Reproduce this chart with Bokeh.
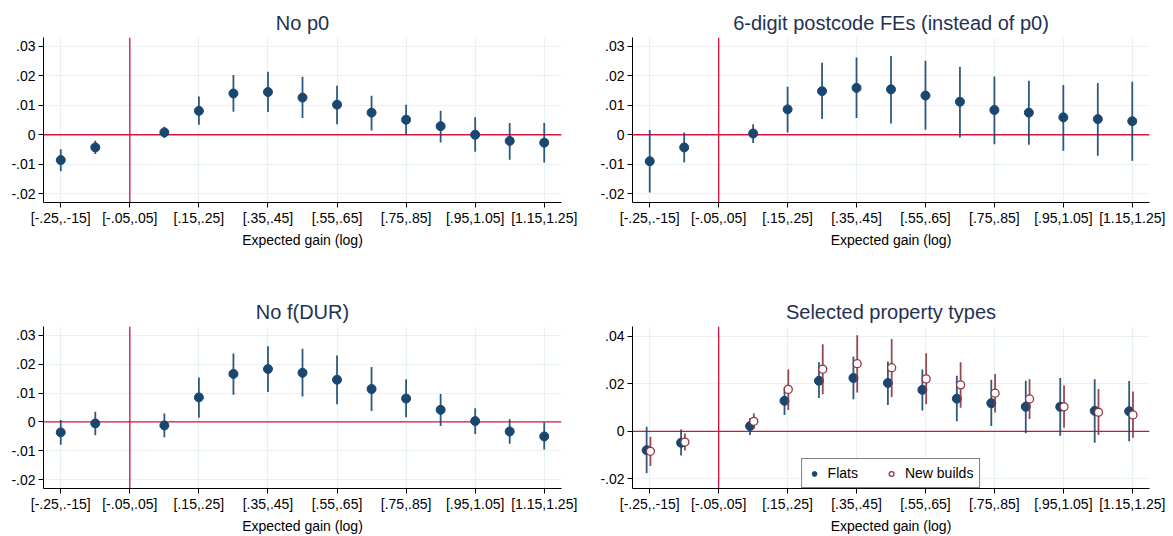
import math
from bokeh.plotting import figure
from bokeh.layouts import column, row
from bokeh.models import (Range1d, FixedTicker, CustomJSTickFormatter, Span,
                          Legend, LegendItem, ColumnDataSource)
from bokeh.embed import file_html
from bokeh.resources import INLINE

NAN = float("nan")

# ---------------- data ----------------
bins = ["[-.25,.-15]", "[-.15,-.05]", "[-.05,.05]", "[.05,.15]", "[.15,.25]",
        "[.25,.35]", "[.35,.45]", "[.45,.55]", "[.55,.65]", "[.65,.75]",
        "[.75,.85]", "[.85,.95]", "[.95,1.05]", "[1.05,1.15]", "[1.15,1.25]"]
shown_bins = [0, 2, 4, 6, 8, 10, 12, 14]
ref_bin = 2  # omitted category

# Panel 1: No p0
nop0_b  = [-0.0086, -0.0043, NAN, 0.0008, 0.0081, 0.0140, 0.0145, 0.0126, 0.0102, 0.0075, 0.0051, 0.0029, 0.0000, -0.0021, -0.0027]
nop0_hi = [-0.0049, -0.0020, NAN, 0.0027, 0.0130, 0.0203, 0.0214, 0.0197, 0.0166, 0.0132, 0.0102, 0.0081, 0.0059, 0.0040, 0.0040]
nop0_lo = [-0.0124, -0.0065, NAN, -0.0011, 0.0034, 0.0078, 0.0077, 0.0057, 0.0036, 0.0014, 0.0000, -0.0026, -0.0058, -0.0085, -0.0094]

# Panel 2: 6-digit postcode FEs
pc_b  = [-0.0090, -0.0043, NAN, 0.0004, 0.0086, 0.0148, 0.0159, 0.0154, 0.0133, 0.0112, 0.0084, 0.0075, 0.0059, 0.0053, 0.0046]
pc_hi = [0.0016, 0.0008, NAN, 0.0036, 0.0163, 0.0244, 0.0262, 0.0267, 0.0251, 0.0231, 0.0198, 0.0183, 0.0169, 0.0176, 0.0180]
pc_lo = [-0.0196, -0.0094, NAN, -0.0028, 0.0008, 0.0053, 0.0057, 0.0038, 0.0017, -0.0009, -0.0032, -0.0034, -0.0054, -0.0071, -0.0088]

# Panel 3: No f(DUR)
nodur_b  = [-0.0036, -0.0005, NAN, -0.0012, 0.0085, 0.0166, 0.0183, 0.0170, 0.0146, 0.0114, 0.0081, 0.0042, 0.0003, -0.0033, -0.0050]
nodur_hi = [0.0007, 0.0035, NAN, 0.0029, 0.0154, 0.0237, 0.0262, 0.0253, 0.0230, 0.0190, 0.0148, 0.0097, 0.0047, 0.0009, -0.0002]
nodur_lo = [-0.0079, -0.0046, NAN, -0.0053, 0.0015, 0.0094, 0.0104, 0.0088, 0.0061, 0.0038, 0.0016, -0.0014, -0.0042, -0.0075, -0.0095]

# Panel 4: Selected property types
flats_b  = [-0.0079, -0.0048, NAN, 0.0022, 0.0128, 0.0212, 0.0224, 0.0203, 0.0174, 0.0137, 0.0118, 0.0103, 0.0103, 0.0086, 0.0084]
flats_hi = [0.0019, 0.0008, NAN, 0.0056, 0.0185, 0.0290, 0.0313, 0.0293, 0.0260, 0.0233, 0.0216, 0.0212, 0.0224, 0.0219, 0.0211]
flats_lo = [-0.0176, -0.0101, NAN, -0.0015, 0.0069, 0.0140, 0.0135, 0.0110, 0.0087, 0.0042, 0.0022, -0.0008, -0.0019, -0.0048, -0.0042]
new_b  = [-0.0084, -0.0045, NAN, 0.0042, 0.0176, 0.0261, 0.0284, 0.0267, 0.0220, 0.0195, 0.0160, 0.0136, 0.0103, 0.0080, 0.0069]
new_hi = [-0.0023, -0.0009, NAN, 0.0076, 0.0260, 0.0365, 0.0403, 0.0388, 0.0328, 0.0290, 0.0241, 0.0219, 0.0192, 0.0178, 0.0167]
new_lo = [-0.0146, -0.0080, NAN, 0.0011, 0.0090, 0.0156, 0.0163, 0.0144, 0.0114, 0.0099, 0.0079, 0.0052, 0.0015, -0.0015, -0.0027]

yticks_a = [-0.02, -0.01, 0.0, 0.01, 0.02, 0.03]
yticks_b = [-0.02, 0.0, 0.02, 0.04]

# ---------------- style ----------------
NAVY = "#1a476f"
MAROON = "#90353b"
RED = "#d3123f"
GRID = "#e9f1f3"
TITLE_C = "#1f3152"
FONT = "Liberation Sans"

yfmt_code = """
if (Math.abs(tick) < 1e-12) return "0";
var s = tick.toFixed(2);
return s.replace(/^(-?)0\\./, "$1.");
"""


def make_panel(title, width, height, left, right, top, bottom, yrange, yticks):
    p = figure(width=width, height=height, output_backend="svg", toolbar_location=None,
               x_range=Range1d(-0.5, 14.5), y_range=Range1d(*yrange),
               min_border_left=left, min_border_right=right,
               min_border_top=top, min_border_bottom=bottom)
    p.outline_line_color = None
    p.background_fill_color = "white"
    p.border_fill_color = "white"

    p.title.text = title
    p.title.align = "center"
    p.title.text_font = FONT
    p.title.text_font_size = "20px"
    p.title.text_font_style = "normal"
    p.title.text_color = TITLE_C
    p.title.standoff = 7

    p.xaxis.ticker = FixedTicker(ticks=shown_bins)
    p.xaxis.major_label_overrides = {i: bins[i] for i in shown_bins}
    p.xaxis.axis_label = "Expected gain (log)"
    p.yaxis.ticker = FixedTicker(ticks=yticks)
    p.yaxis.formatter = CustomJSTickFormatter(code=yfmt_code)

    for ax in (p.xaxis[0], p.yaxis[0]):
        ax.axis_line_color = "black"
        ax.axis_line_width = 1
        ax.major_tick_line_color = "black"
        ax.major_tick_out = 5
        ax.major_tick_in = 0
        ax.minor_tick_line_color = None
        ax.major_label_text_font = FONT
        ax.major_label_text_font_size = "14px"
        ax.major_label_text_color = "black"
        ax.major_label_standoff = 3
        ax.axis_label_text_font = FONT
        ax.axis_label_text_font_size = "14px"
        ax.axis_label_text_font_style = "normal"
        ax.axis_label_text_color = "black"
        ax.axis_label_standoff = 3
    p.xaxis.major_label_standoff = 2

    p.xgrid.grid_line_color = GRID
    p.ygrid.grid_line_color = GRID
    p.xgrid.grid_line_width = 1.2
    p.ygrid.grid_line_width = 1.2

    p.add_layout(Span(location=ref_bin, dimension="height", line_color=RED,
                      line_width=1.3, level="underlay"))
    p.add_layout(Span(location=0, dimension="width", line_color=RED,
                      line_width=1.3, level="underlay"))
    return p


def series(p, b, lo, hi, offset, color, fill, size, lw):
    xs, bs, los, his = [], [], [], []
    for i in range(len(b)):
        if math.isnan(b[i]):
            continue
        xs.append(i + offset)
        bs.append(b[i])
        los.append(lo[i])
        his.append(hi[i])
    src = ColumnDataSource(dict(x=xs, b=bs, lo=los, hi=his))
    p.segment(x0="x", x1="x", y0="lo", y1="hi", source=src,
              line_color=color, line_width=1.8, line_alpha=0.9)
    r = p.scatter(x="x", y="b", source=src, size=size, marker="circle",
                  fill_color=fill, line_color=color, line_width=lw)
    return r


W1, W2 = 596, 577
H1, H2 = 295, 241

p1 = make_panel("No p0", W1, H1, 43, 35, 37, 93, (-0.023, 0.033), yticks_a)
series(p1, nop0_b, nop0_lo, nop0_hi, 0.0, NAVY, NAVY, 9, 1)

p2 = make_panel("6-digit postcode FEs (instead of p0)", W2, H1, 36, 24, 37, 93, (-0.023, 0.033), yticks_a)
series(p2, pc_b, pc_lo, pc_hi, 0.0, NAVY, NAVY, 9, 1)

p3 = make_panel("No f(DUR)", W1, H2, 43, 35, 29, 46, (-0.023, 0.033), yticks_a)
series(p3, nodur_b, nodur_lo, nodur_hi, 0.0, NAVY, NAVY, 9, 1)

p4 = make_panel("Selected property types", W2, H2, 36, 24, 29, 46, (-0.024, 0.044), yticks_b)
r_f = series(p4, flats_b, flats_lo, flats_hi, -0.09, NAVY, NAVY, 9, 1)
r_n = series(p4, new_b, new_lo, new_hi, 0.02, MAROON, "white", 8, 1.3)

legend = Legend(items=[LegendItem(label="Flats", renderers=[r_f]),
                       LegendItem(label="New builds", renderers=[r_n])],
                location="bottom_center", orientation="horizontal")
legend.border_line_color = "black"
legend.border_line_width = 1
legend.background_fill_color = "white"
legend.background_fill_alpha = 1
legend.label_text_font = FONT
legend.label_text_font_size = "14px"
legend.label_text_color = "black"
legend.padding = 6
legend.spacing = 27
legend.glyph_width = 12
legend.glyph_height = 15
legend.label_height = 15
legend.label_standoff = 8
legend.margin = 0
p4.add_layout(legend, "center")

layout = column(row(p1, p2), row(p3, p4))
open("out.html", "w").write(file_html(layout, INLINE))
